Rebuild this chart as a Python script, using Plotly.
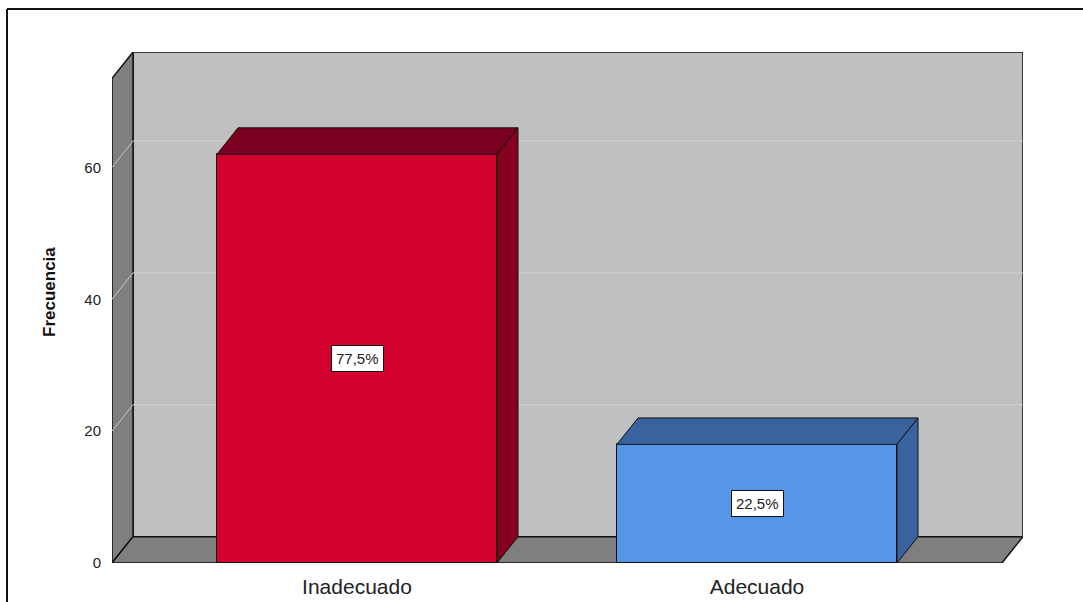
import plotly.graph_objects as go

# ---- data ----
categories = ["Inadecuado", "Adecuado"]
frequencies = [62, 18]
percent_labels = ["77,5%", "22,5%"]
y_ticks = [0, 20, 40, 60]
y_title = "Frecuencia"

# ---- style / geometry constants ----
FONT = "Liberation Sans, Arial, sans-serif"
BAR_HALF = 0.35
DX = 0.0525          # depth offset in x units
DY = 4.0             # depth offset in value units
X0, X1 = -0.6125, 1.665
YTOP = 77.5
front_cols = ["#D3002D", "#5596E6"]
top_cols = ["#7A0020", "#3A629E"]
side_cols = ["#86001F", "#3A64A0"]

fig = go.Figure()

# front faces of bars
xs = list(range(len(categories)))
fig.add_trace(go.Bar(
    x=xs, y=frequencies, width=2 * BAR_HALF,
    marker=dict(color=front_cols, line=dict(color="#111111", width=1)),
    hoverinfo="skip", showlegend=False,
))

# top and side faces
for i, v in enumerate(frequencies):
    xl, xr = i - BAR_HALF, i + BAR_HALF
    fig.add_trace(go.Scatter(
        x=[xl, xr, xr + DX, xl + DX, xl], y=[v, v, v + DY, v + DY, v],
        mode="lines", fill="toself", fillcolor=top_cols[i],
        line=dict(color="#111111", width=1), hoverinfo="skip", showlegend=False,
    ))
    fig.add_trace(go.Scatter(
        x=[xr, xr + DX, xr + DX, xr, xr], y=[0, DY, v + DY, v, 0],
        mode="lines", fill="toself", fillcolor=side_cols[i],
        line=dict(color="#111111", width=1), hoverinfo="skip", showlegend=False,
    ))

shapes = []
# back wall
shapes.append(dict(type="rect", xref="x", yref="y", x0=X0 + DX, x1=X1, y0=DY, y1=YTOP,
                   fillcolor="#C0C0C0", line=dict(color="#111111", width=1.5), layer="below"))
# left wall
shapes.append(dict(type="path", xref="x", yref="y",
                   path=f"M{X0},0 L{X0},{YTOP - DY} L{X0 + DX},{YTOP} L{X0 + DX},{DY} Z",
                   fillcolor="#7F7F7F", line=dict(color="#111111", width=1.5), layer="below"))
# floor
shapes.append(dict(type="path", xref="x", yref="y",
                   path=f"M{X0},0 L{X1 - DX},0 L{X1},{DY} L{X0 + DX},{DY} Z",
                   fillcolor="#7F7F7F", line=dict(color="#111111", width=1.5), layer="below"))
# gridlines
for t in y_ticks[1:]:
    shapes.append(dict(type="line", xref="x", yref="y", x0=X0, y0=t, x1=X0 + DX, y1=t + DY,
                       line=dict(color="#C8C8C8", width=1), layer="below"))
    shapes.append(dict(type="line", xref="x", yref="y", x0=X0 + DX, y0=t + DY, x1=X1, y1=t + DY,
                       line=dict(color="#D2D2D2", width=1), layer="below"))

W, H = 1083, 602
ML, MR, MT, MB = 112, 60, 52, 39
pw, ph = W - ML - MR, H - MT - MB
def px(xp): return (xp - ML) / pw
def py(yp): return (H - MB - yp) / ph

# outer frame (left and top edges visible)
shapes.append(dict(type="line", xref="paper", yref="paper", x0=px(7), y0=py(9), x1=px(1095), y1=py(9),
                   line=dict(color="#111111", width=2)))
shapes.append(dict(type="line", xref="paper", yref="paper", x0=px(7), y0=py(9), x1=px(7), y1=py(615),
                   line=dict(color="#111111", width=2)))

annotations = []
for i, v in enumerate(frequencies):
    annotations.append(dict(x=i, y=v / 2, xref="x", yref="y", text=percent_labels[i],
                            showarrow=False, bgcolor="white", bordercolor="#111111",
                            borderwidth=1, borderpad=4,
                            font=dict(family=FONT, size=15, color="#222222")))
annotations.append(dict(x=px(49), y=py(292), xref="paper", yref="paper", text=f"<b>{y_title}</b>",
                        textangle=-90, showarrow=False, xanchor="center", yanchor="middle",
                        font=dict(family=FONT, size=17, color="#111111")))

fig.update_layout(
    width=W, height=H,
    margin=dict(l=ML, r=MR, t=MT, b=MB, pad=0, autoexpand=False),
    paper_bgcolor="white", plot_bgcolor="rgba(0,0,0,0)",
    shapes=shapes, annotations=annotations,
    xaxis=dict(range=[X0, X1], tickvals=xs, ticktext=categories, showgrid=False,
               zeroline=False, showline=False, ticks="outside", ticklen=5, automargin=False,
               tickcolor="rgba(0,0,0,0)", tickfont=dict(family=FONT, size=21, color="#222222"),
               fixedrange=True),
    yaxis=dict(range=[0, YTOP], tickvals=y_ticks, showgrid=False, zeroline=False, automargin=False,
               showline=False, ticks="outside", ticklen=7, tickcolor="rgba(0,0,0,0)",
               tickfont=dict(family=FONT, size=15, color="#222222"), fixedrange=True),
    bargap=0,
)

fig.write_html("out.html", config={"displayModeBar": False},
               post_script="document.body.style.margin='0';document.body.style.overflow='hidden';")
